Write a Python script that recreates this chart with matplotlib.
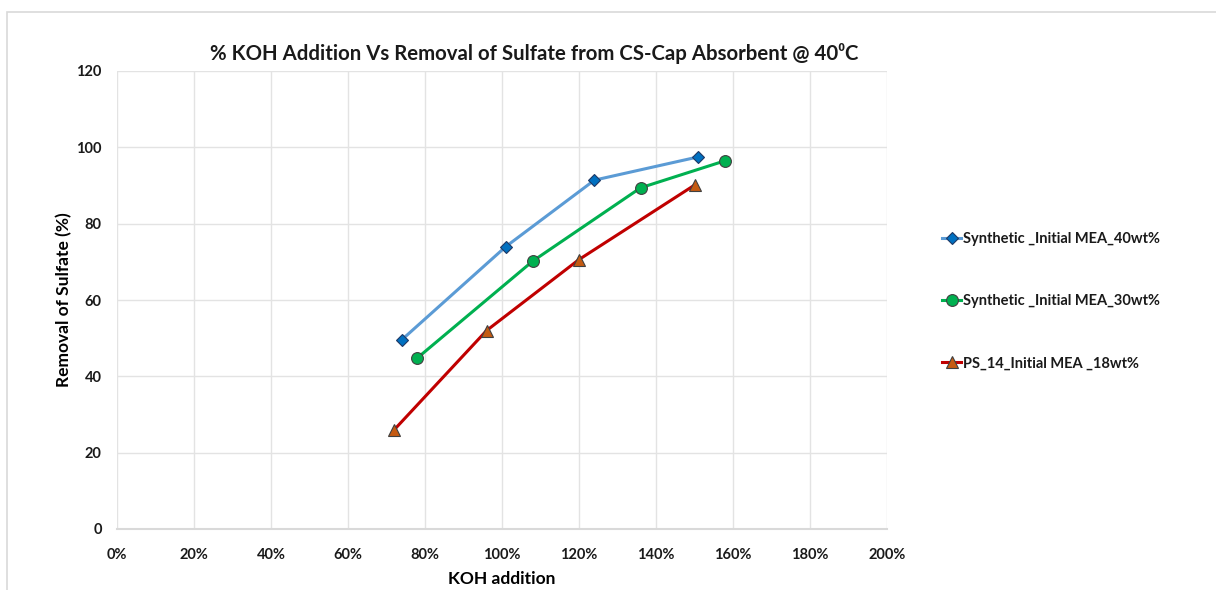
import matplotlib.pyplot as plt
from matplotlib.patches import Rectangle
from matplotlib.ticker import FuncFormatter

plt.rcParams['font.family'] = ['Lato', 'DejaVu Sans']
plt.rcParams['font.weight'] = 'bold'

# KOH addition (% of stoichiometric) vs sulfate removal (%)
koh_40 = [74, 101, 124, 151]
rem_40 = [49.6, 74.0, 91.4, 97.5]

koh_30 = [78, 108, 136, 158]
rem_30 = [44.8, 70.2, 89.4, 96.5]

koh_18 = [72, 96, 120, 150]
rem_18 = [26.0, 52.0, 70.6, 90.1]

labels = ['Synthetic _Initial MEA_40wt%',
          'Synthetic _Initial MEA_30wt%',
          'PS_14_Initial MEA _18wt%']

W, H = 1216, 590
fig = plt.figure(figsize=(W / 100, H / 100), dpi=100)
ax = fig.add_axes([117 / W, 1 - 529 / H, (887 - 117) / W, (529 - 71) / H])

# outer chart frame (light grey, runs off the right/bottom edge)
fig.patches.append(Rectangle((7 / W, -0.1), 1.2, 1 - 12 / H + 0.1,
                             transform=fig.transFigure, fill=False,
                             edgecolor='#d9d9d9', linewidth=1.2))

ax.plot(koh_40, rem_40, color='#5b9bd5', lw=2.2, marker='D', ms=6.5,
        mfc='#0070c0', mec='#1f3864', mew=0.8, label=labels[0], zorder=3)
ax.plot(koh_30, rem_30, color='#00b050', lw=2.2, marker='o', ms=8.5,
        mfc='#00b050', mec='#404040', mew=0.8, label=labels[1], zorder=3)
ax.plot(koh_18, rem_18, color='#c00000', lw=2.2, marker='^', ms=8.5,
        mfc='#c55a11', mec='#404040', mew=0.8, label=labels[2], zorder=3)

ax.set_xlim(0, 200)
ax.set_ylim(0, 120)
ax.set_xticks(range(0, 201, 20))
ax.set_yticks(range(0, 121, 20))
ax.xaxis.set_major_formatter(FuncFormatter(lambda v, p: f'{v:.0f}%'))
ax.grid(True, color='#e3e3e3', lw=1)
ax.set_axisbelow(True)
for s in ['top', 'right', 'left']:
    ax.spines[s].set_visible(False)
ax.spines['bottom'].set_color('#d9d9d9')
ax.spines['bottom'].set_linewidth(1.5)
ax.tick_params(length=0, labelsize=10.5, colors='#1a1a1a', pad=14)
ax.tick_params(axis='y', pad=11)
for lab in ax.get_xticklabels() + ax.get_yticklabels():
    lab.set_fontweight('bold')

ax.set_xlabel('KOH addition', fontsize=12.5, fontweight='bold', labelpad=6)
ax.set_ylabel('Removal of Sulfate (%)', fontsize=12.5, fontweight='bold')
ax.yaxis.set_label_coords(-0.058, 0.5)

fig.text(534 / W, 1 - 53 / H,
         '% KOH Addition Vs Removal of Sulfate from CS-Cap Absorbent @ 40\u2070C',
         ha='center', va='center', fontsize=14.7, fontweight='bold', color='#1a1a1a')

leg = fig.legend(loc='upper left', bbox_to_anchor=(935 / W, 1 - 225 / H),
                 frameon=False, fontsize=10.5, labelspacing=3.3,
                 handlelength=1.3, handletextpad=0.1, borderpad=0)
for t in leg.get_texts():
    t.set_fontweight('bold')
    t.set_color('#1a1a1a')

fig.savefig('out.png', dpi=100)
